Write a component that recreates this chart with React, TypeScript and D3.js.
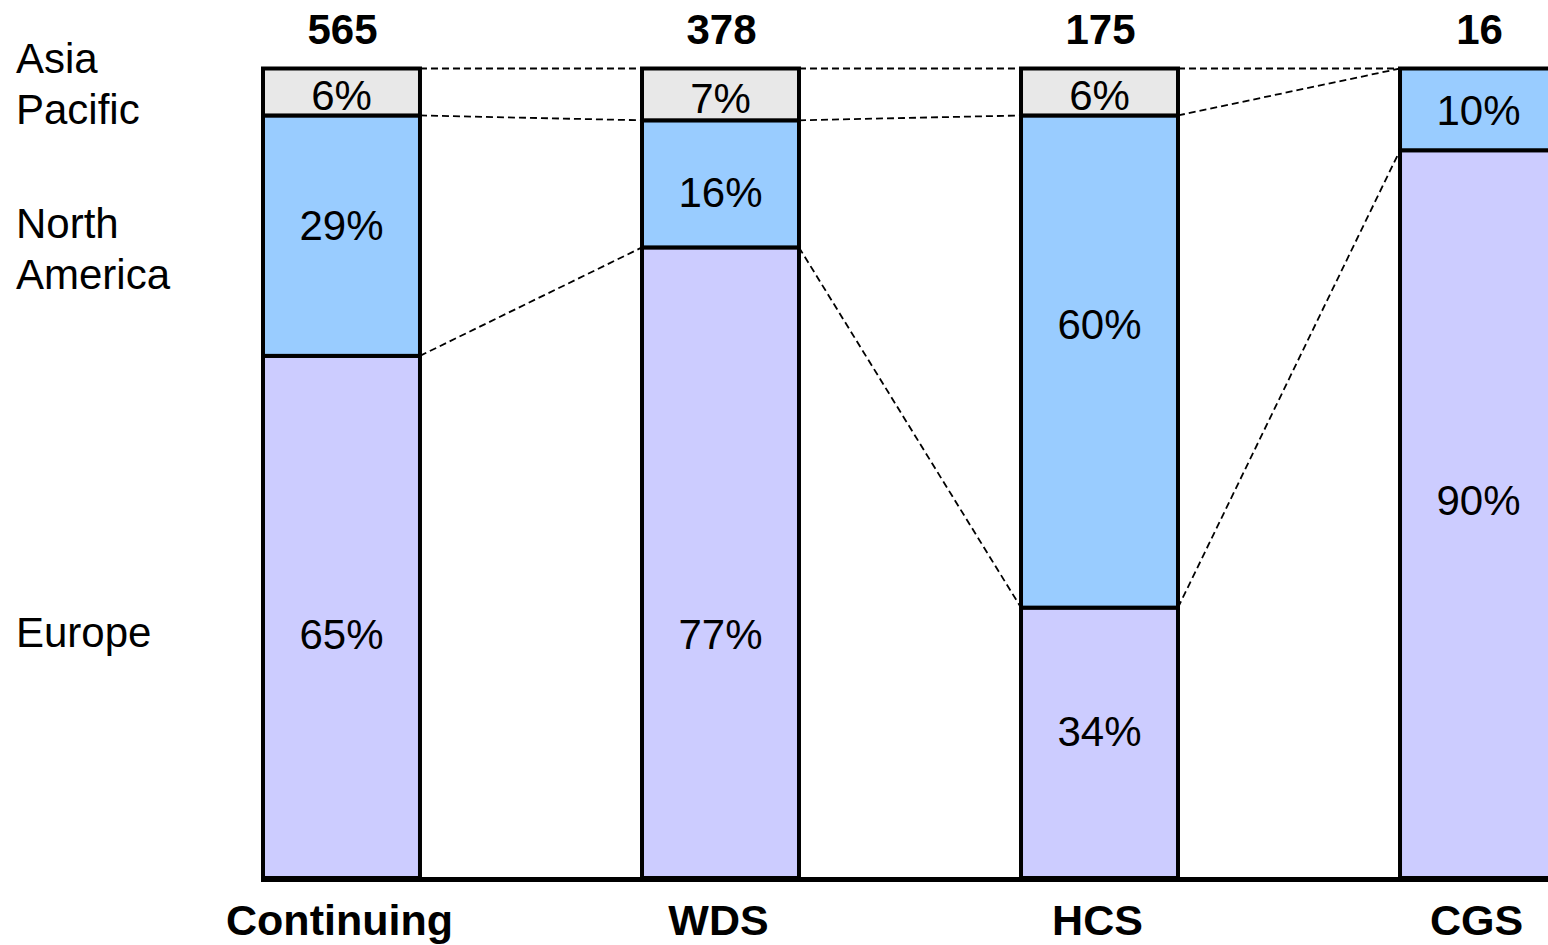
import React from "react";
import * as d3 from "d3";

// ---- data ----
const categories = ["Continuing", "WDS", "HCS", "CGS"];
const totals = [565, 378, 175, 16];
const regions = ["Europe", "North America", "Asia Pacific"];
// shares (%) per category, bottom to top
const europe = [64.5, 77.9, 33.4, 89.9];
const northAmerica = [29.7, 15.7, 60.8, 10.1];
const asiaPacific = [5.8, 6.4, 5.8, 0];
const europeLabels = ["65%", "77%", "34%", "90%"];
const northAmericaLabels = ["29%", "16%", "60%", "10%"];
const asiaPacificLabels = ["6%", "7%", "6%", ""];
// label anchors in value units (%)
const europeLabelAt = [30.1, 30.1, 18.2, 46.7];
const northAmericaLabelAt = [80.7, 84.7, 68.4, 94.9];
const asiaPacificLabelAt = [96.7, 96.4, 96.7, 0];
const legendLines = [["Asia", "Pacific"], ["North", "America"], ["Europe"]];
const legendAt = [99.4, 79.1, 28.5];

const colors = ["#CCCCFF", "#99CCFF", "#E8E8E8"];
const W = 1548, H = 945;
const FONT = "'Liberation Sans', Arial, Helvetica, sans-serif";

export default function App() {
  const rows = categories.map((c, i) => ({
    cat: c,
    "Europe": europe[i],
    "North America": northAmerica[i],
    "Asia Pacific": asiaPacific[i],
  }));
  const series = d3.stack<any>().keys(regions)(rows);
  const labelsBy = [europeLabels, northAmericaLabels, asiaPacificLabels];
  const labelAtBy = [europeLabelAt, northAmericaLabelAt, asiaPacificLabelAt];

  const x = d3.scaleBand<string>().domain(categories).range([263, 1557]).paddingInner(0.5858).paddingOuter(0);
  const y = d3.scaleLinear().domain([0, 100]).range([878, 68.5]);
  const bw = x.bandwidth();

  const levels = categories.map((_, i) => [
    europe[i],
    europe[i] + northAmerica[i],
    europe[i] + northAmerica[i] + asiaPacific[i],
  ]);

  const connectors: any[] = [];
  for (let i = 0; i < categories.length - 1; i++) {
    for (let k = 0; k < 3; k++) {
      connectors.push({
        x1: (x(categories[i]) as number) + bw,
        y1: y(levels[i][k]),
        x2: x(categories[i + 1]) as number,
        y2: y(levels[i + 1][k]),
      });
    }
  }

  return (
    <svg width={W} height={H} style={{ position: "absolute", left: 0, top: 0, background: "#fff" }} fontFamily={FONT}>
      <rect x={0} y={0} width={W} height={H} fill="#fff" />
      {connectors.map((c, i) => (
        <line key={"c" + i} x1={c.x1} y1={c.y1} x2={c.x2} y2={c.y2} stroke="#000" strokeWidth={1.8} strokeDasharray="7,4" />
      ))}
      {series.map((s, si) =>
        s.map((d, i) => {
          const h = y(d[0]) - y(d[1]);
          if (h <= 0) return null;
          return (
            <rect
              key={si + "-" + i}
              x={x(categories[i])}
              y={y(d[1])}
              width={bw}
              height={h}
              fill={colors[si]}
              stroke="#000"
              strokeWidth={4}
            />
          );
        })
      )}
      {labelsBy.map((labs, si) =>
        labs.map((t, i) =>
          t ? (
            <text
              key={"l" + si + i}
              x={(x(categories[i]) as number) + bw / 2}
              y={y(labelAtBy[si][i])}
              dy="0.36em"
              textAnchor="middle"
              fontSize={42}
              fill="#000"
            >
              {t}
            </text>
          ) : null
        )
      )}
      <line x1={261} x2={W} y1={y(0) + 1.5} y2={y(0) + 1.5} stroke="#000" strokeWidth={5} />
      {totals.map((t, i) => (
        <text key={"t" + i} x={(x(categories[i]) as number) + bw / 2 + 1} y={44} textAnchor="middle" fontSize={42} fontWeight="bold">
          {t}
        </text>
      ))}
      {categories.map((c, i) => (
        <text key={"x" + i} x={(x(categories[i]) as number) + bw / 2 - 2} y={935} textAnchor="middle" fontSize={43} fontWeight="bold">
          {c}
        </text>
      ))}
      {legendLines.map((lines, i) => (
        <text key={"g" + i} x={16} y={y(legendAt[i])} fontSize={42}>
          {lines.map((ln, j) => (
            <tspan key={j} x={16} dy={j === 0 ? 0 : 51}>
              {ln}
            </tspan>
          ))}
        </text>
      ))}
    </svg>
  );
}
